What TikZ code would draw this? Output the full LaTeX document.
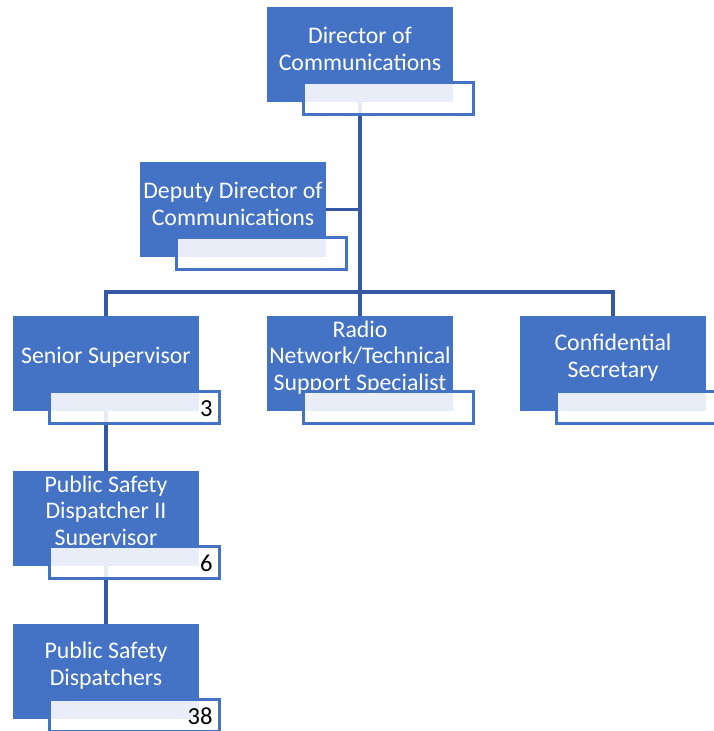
\documentclass[tikz,border=0pt]{standalone}
\usepackage{fontspec}
\setmainfont{Carlito}
\definecolor{boxblue}{RGB}{68,114,196}
\definecolor{lineblue}{RGB}{52,88,164}
\tikzset{
  bluebox/.style={fill=boxblue, draw=none, minimum width=186pt, minimum height=95pt, inner sep=0pt},
  boxtext/.style={text=white, align=center, inner sep=0pt, font=\fontsize{23.8}{26.8}\selectfont},
  subbox/.style={draw=boxblue, line width=2.4pt, fill=white, fill opacity=0.88, text opacity=1,
     minimum width=170pt, minimum height=32pt, inner sep=0pt},
  numtext/.style={text=black, inner sep=0pt, anchor=east, font=\fontsize{24.5}{27}\selectfont},
  conn/.style={draw=lineblue, line width=3.2pt}
}
\newcommand\mybox[4]{%
  \node[bluebox] (#1) at (#2,#3) {};
  \node[boxtext] (#1t) at ([yshift=6pt]#1.center) {#4};
}
\newcommand\mysub[2]{%
  \node[subbox] (#1s) at ([xshift=28.5pt,yshift=-44pt]#1.center) {};
  \node[numtext] (#1n) at ([xshift=-8pt,yshift=-1pt]#1s.east) {#2};
}
\begin{document}
\begin{tikzpicture}[x=1pt,y=-1pt]
\useasboundingbox (0,0) rectangle (713,731);
\mybox{dir}{360}{54.5}{Director of\\Communications}
\mybox{dep}{233}{209.5}{Deputy Director of\\Communications}
\mybox{sen}{106}{363.5}{Senior Supervisor}
\mybox{rad}{360}{363.5}{Radio\\Network/Technical\\Support Specialist}
\mybox{con}{613}{363.5}{Confidential\\Secretary}
\mybox{psd}{106}{518.5}{Public Safety\\Dispatcher II\\Supervisor}
\mybox{psp}{106}{671.5}{Public Safety\\Dispatchers}
\coordinate (j) at (360,292);
\draw[conn] (dir.south) -- (j);
\draw[conn] (dep.east) -- (dep.east -| dir.south);
\draw[conn] (sen.north) |- (j) -| (con.north);
\draw[conn] (j) -- (rad.north);
\draw[conn] (sen.south) -- (psd.north);
\draw[conn] (psd.south) -- (psp.north);
\mysub{dir}{}
\mysub{dep}{}
\mysub{sen}{3}
\mysub{rad}{}
\mysub{con}{}
\mysub{psd}{6}
\mysub{psp}{38}
\end{tikzpicture}
\end{document}
